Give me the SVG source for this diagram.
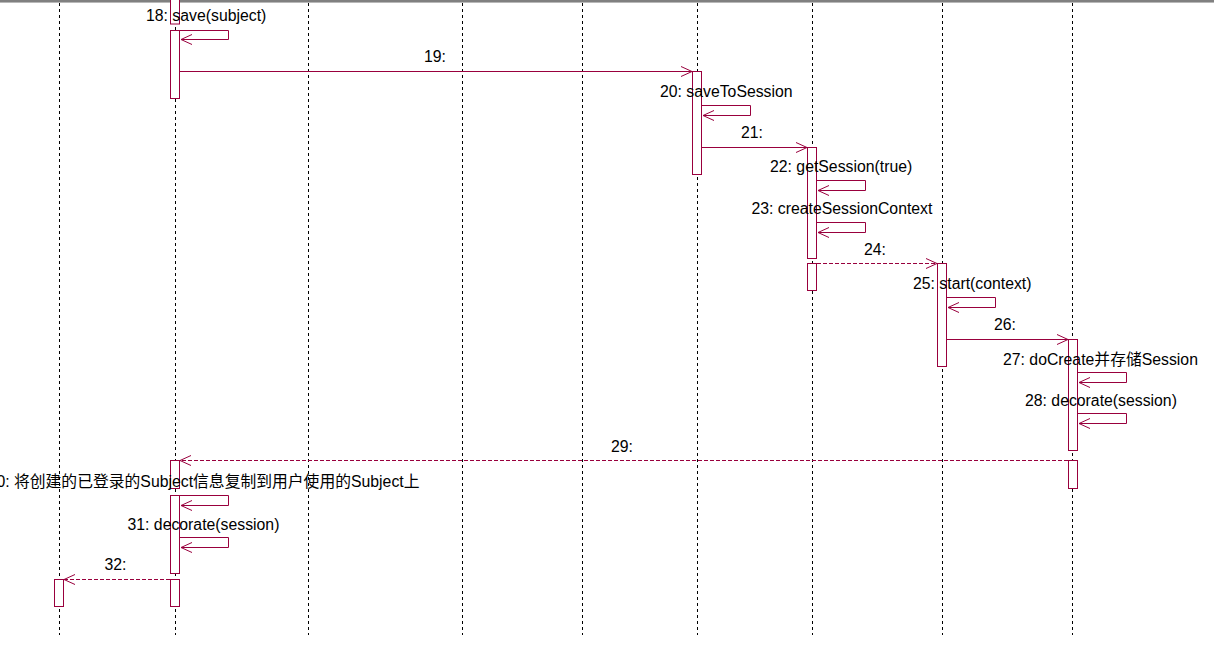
<svg xmlns="http://www.w3.org/2000/svg" width="1214" height="648" viewBox="0 0 1214 648">
<style>
.life{stroke:#000;stroke-width:1;stroke-dasharray:3,3;fill:none}
.act{fill:#fff;stroke:#99003d;stroke-width:1}
.msg{stroke:#99003d;stroke-width:1;fill:none;marker-end:url(#arr)}
.ret{stroke:#99003d;stroke-width:1;fill:none;stroke-dasharray:4,2;marker-end:url(#arr)}
.lbl{font-family:"Liberation Sans",Arial,"Noto Sans CJK SC",sans-serif;font-size:15.8px;fill:#000}
</style>
<defs>
<marker id="arr" markerUnits="userSpaceOnUse" viewBox="0 0 12 12" refX="11" refY="6" markerWidth="12" markerHeight="12" orient="auto">
<path d="M0,1 L11,6 L0,11" fill="none" stroke="#99003d" stroke-width="1"/>
</marker>
</defs>
<rect x="0" y="0" width="1214" height="648" fill="#fff"/>
<rect x="0" y="0" width="1214" height="2" fill="#808080"/>
<rect x="0" y="2" width="1214" height="1" fill="#b8b8b8"/>
<g id="lifelines">
<line class="life" x1="59.5" y1="3" x2="59.5" y2="635"/>
<line class="life" x1="175.5" y1="3" x2="175.5" y2="635"/>
<line class="life" x1="308.5" y1="3" x2="308.5" y2="635"/>
<line class="life" x1="462.5" y1="3" x2="462.5" y2="635"/>
<line class="life" x1="582.5" y1="3" x2="582.5" y2="635"/>
<line class="life" x1="697.5" y1="3" x2="697.5" y2="635"/>
<line class="life" x1="812.5" y1="3" x2="812.5" y2="635"/>
<line class="life" x1="942.5" y1="3" x2="942.5" y2="635"/>
<line class="life" x1="1072.5" y1="3" x2="1072.5" y2="635"/>
</g>
<g id="activations">
<rect class="act" x="170.5" y="-1" width="9" height="25"/>
<rect class="act" x="170.5" y="30.5" width="9" height="68"/>
<rect class="act" x="692.5" y="71.5" width="9" height="103"/>
<rect class="act" x="807.5" y="147.5" width="9" height="111"/>
<rect class="act" x="807.5" y="263.5" width="9" height="27"/>
<rect class="act" x="937.5" y="263.5" width="9" height="103"/>
<rect class="act" x="1068.5" y="339.5" width="9" height="111"/>
<rect class="act" x="1068.5" y="460.5" width="9" height="28"/>
<rect class="act" x="170.5" y="460.5" width="9" height="28"/>
<rect class="act" x="170.5" y="495.5" width="9" height="78"/>
<rect class="act" x="170.5" y="579.5" width="9" height="27"/>
<rect class="act" x="54.5" y="579.5" width="9" height="27"/>
</g>
<g id="connectors">
<path class="msg" d="M179.5,30.5 H228.5 V39.5 H181"/>
<path class="msg" d="M180,71.5 H692"/>
<path class="msg" d="M701.5,105.5 H750.5 V115.5 H703"/>
<path class="msg" d="M702,147.5 H807"/>
<path class="msg" d="M816.5,180.5 H865.5 V190.5 H818"/>
<path class="msg" d="M816.5,222.5 H865.5 V232.5 H818"/>
<path class="ret" d="M817,263.5 H937"/>
<path class="msg" d="M946.5,297.5 H995.5 V307.5 H948"/>
<path class="msg" d="M947,339.5 H1068"/>
<path class="msg" d="M1077.5,372.5 H1126.5 V382.5 H1079"/>
<path class="msg" d="M1077.5,413.5 H1126.5 V423.5 H1079"/>
<path class="ret" d="M1068,460.5 H180"/>
<path class="msg" d="M179.5,495.5 H228.5 V505.5 H181"/>
<path class="msg" d="M179.5,537.5 H228.5 V547.5 H181"/>
<path class="ret" d="M170,579.5 H64"/>
</g>
<g id="labels">
<text class="lbl" x="146" y="21">18: save(subject)</text>
<text class="lbl" x="424" y="62">19:</text>
<text class="lbl" x="660" y="97">20: saveToSession</text>
<text class="lbl" x="741" y="138">21:</text>
<text class="lbl" x="770" y="172">22: getSession(true)</text>
<text class="lbl" x="751.5" y="213.5">23: createSessionContext</text>
<text class="lbl" x="864" y="254.5">24:</text>
<text class="lbl" x="913" y="289">25: start(context)</text>
<text class="lbl" x="994" y="330">26:</text>
<text class="lbl" x="1003" y="364.5">27: doCreate并存储Session</text>
<text class="lbl" x="1025" y="406">28: decorate(session)</text>
<text class="lbl" x="611" y="452">29:</text>
<text class="lbl" x="419.5" y="487" text-anchor="end">30: 将创建的已登录的Subject信息复制到用户使用的Subject上</text>
<text class="lbl" x="127.5" y="529.5">31: decorate(session)</text>
<text class="lbl" x="104.5" y="570">32:</text>
</g>
</svg>
